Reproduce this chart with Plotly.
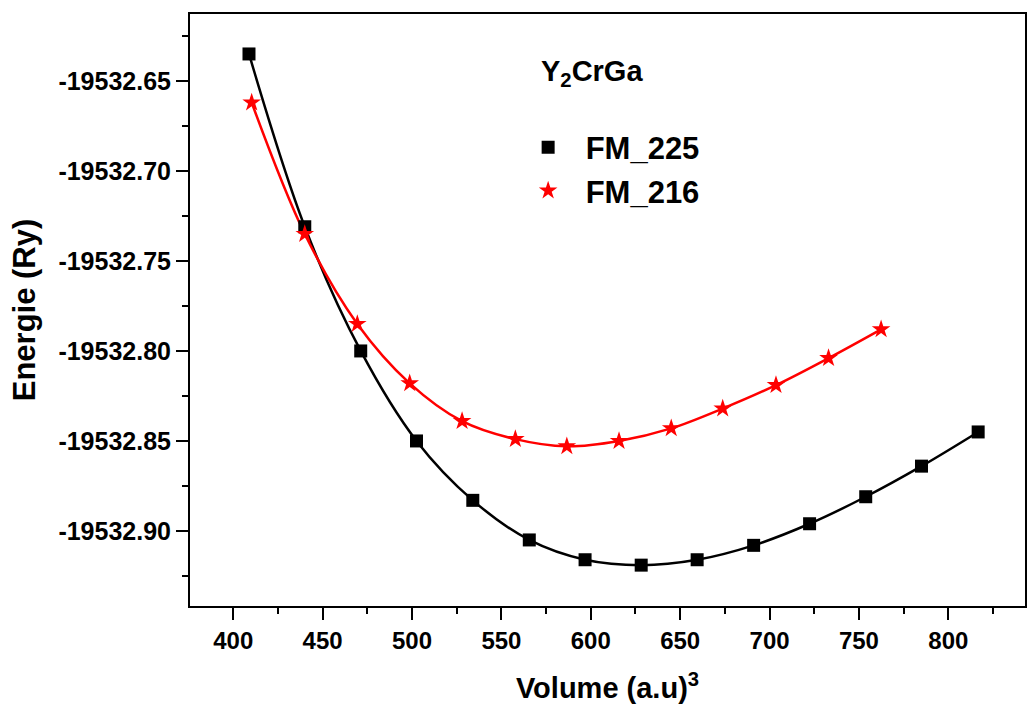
import plotly.graph_objects as go

# Data
vol_fm225 = [408.8, 440.0, 471.3, 502.5, 534.0, 565.6, 596.8, 628.2, 659.5, 691.1, 722.4, 753.8, 785.0, 816.7]
e_fm225 = [-19532.635, -19532.731, -19532.800, -19532.850, -19532.883, -19532.905, -19532.916,
           -19532.919, -19532.916, -19532.908, -19532.896, -19532.881, -19532.864, -19532.845]

vol_fm216 = [410.3, 440.0, 469.4, 498.7, 528.0, 557.8, 586.6, 615.8, 645.0, 673.8, 703.6, 733.0, 762.4]
e_fm216 = [-19532.662, -19532.735, -19532.785, -19532.818, -19532.839, -19532.849, -19532.853,
           -19532.850, -19532.843, -19532.832, -19532.819, -19532.804, -19532.788]

x_ticks = [400, 450, 500, 550, 600, 650, 700, 750, 800]
y_ticks = [-19532.65, -19532.70, -19532.75, -19532.80, -19532.85, -19532.90]
y_tick_text = ["-19532.65", "-19532.70", "-19532.75", "-19532.80", "-19532.85", "-19532.90"]

FONT = "Liberation Sans, Arial, sans-serif"

fig = go.Figure()

# smooth curves
fig.add_trace(go.Scatter(x=vol_fm225, y=e_fm225, mode="lines",
                         line=dict(color="#000000", width=2.5, shape="spline"),
                         showlegend=False, hoverinfo="skip"))
fig.add_trace(go.Scatter(x=vol_fm216, y=e_fm216, mode="lines",
                         line=dict(color="#ff0000", width=2.5, shape="spline"),
                         showlegend=False, hoverinfo="skip"))
# markers (legend entries)
fig.add_trace(go.Scatter(x=vol_fm225, y=e_fm225, mode="markers", name="<b>FM_225</b>",
                         marker=dict(symbol="square", size=13, color="#000000")))
fig.add_trace(go.Scatter(x=vol_fm216, y=e_fm216, mode="markers", name="<b>FM_216</b>",
                         marker=dict(symbol="star", size=14, color="#ff0000")))

fig.update_layout(
    width=1030, height=711,
    margin=dict(l=190, r=3, t=14, b=105),
    paper_bgcolor="white", plot_bgcolor="white",
    font=dict(family=FONT, color="#000000"),
    legend=dict(x=0.384, y=0.82, xanchor="left", yanchor="top",
                bgcolor="rgba(0,0,0,0)",
                font=dict(family=FONT, size=31, color="#000000"),
                itemwidth=65, tracegroupgap=0),
    annotations=[dict(text="<b>Y<sub>2</sub>CrGa</b>", xref="paper", yref="paper",
                      x=0.418, y=0.9, xanchor="left", yanchor="middle",
                      showarrow=False, font=dict(family=FONT, size=29, color="#000000"))],
)

fig.update_xaxes(
    range=[375.8, 842.9],
    tickmode="array", tickvals=x_ticks, ticktext=[f"<b>{v}</b>" for v in x_ticks],
    ticks="outside", ticklen=12, tickwidth=2, tickcolor="#000000",
    minor=dict(dtick=25, tick0=375, ticks="outside", ticklen=6, tickwidth=2, tickcolor="#000000"),
    showline=True, linecolor="#000000", linewidth=2, mirror=True,
    showgrid=False, zeroline=False,
    tickfont=dict(family=FONT, size=24, color="#000000"),
    title=dict(text="<b>Volume (a.u)<sup>3</sup></b>", font=dict(family=FONT, size=29, color="#000000"),
               standoff=25),
)
fig.update_yaxes(
    range=[-19532.9417, -19532.6128],
    tickmode="array", tickvals=y_ticks, ticktext=[f"<b>{t}</b>" for t in y_tick_text],
    ticks="outside", ticklen=12, tickwidth=2, tickcolor="#000000",
    minor=dict(tickvals=[-19532.625, -19532.675, -19532.725, -19532.775, -19532.825, -19532.875, -19532.925],
               ticks="outside", ticklen=6, tickwidth=2, tickcolor="#000000"),
    showline=True, linecolor="#000000", linewidth=2, mirror=True,
    showgrid=False, zeroline=False,
    tickfont=dict(family=FONT, size=25, color="#000000"),
    title=dict(text="<b>Energie (Ry)</b>", font=dict(family=FONT, size=31, color="#000000"),
               standoff=14),
)

fig.write_html("out.html")
